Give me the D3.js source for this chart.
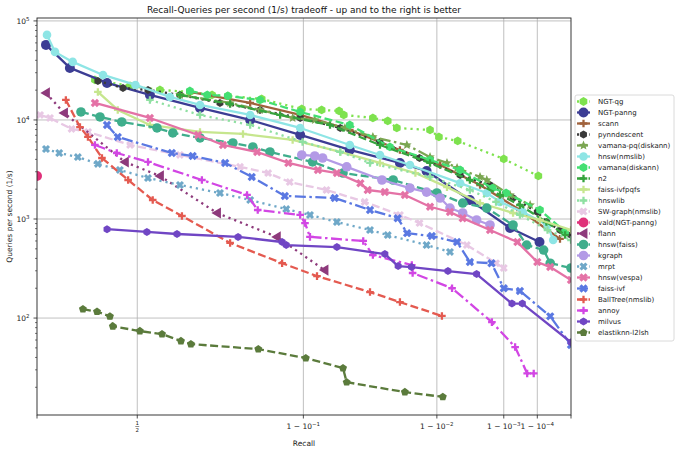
<!DOCTYPE html>
<html><head><meta charset="utf-8">
<script src="https://cdn.jsdelivr.net/npm/d3@7"></script>
<style>body{margin:0;background:#fff}</style>
</head><body><svg id="c" width="680" height="452"></svg>
<script>
// ---- data: [recall, queries per second] ----
const algorithms = ["NGT-qg","NGT-panng","scann","pynndescent","vamana-pq(diskann)","hnsw(nmslib)","vamana(diskann)","n2","faiss-ivfpqfs","hnswlib","SW-graph(nmslib)","vald(NGT-panng)","flann","hnsw(faiss)","kgraph","mrpt","hnsw(vespa)","faiss-ivf","BallTree(nmslib)","annoy","milvus","elastiknn-l2lsh"];

const ngtQg = [[0.318,25400],[0.472,22050],[0.582,20100],[0.675,19180],[0.734,17900],[0.771,17480],[0.838,16300],[0.898,12920],[0.921,12620],[0.938,12330],[0.942,11230],[0.9633,10480],[0.9717,9770],[0.9761,8300],[0.9882,7925],[0.9905,6740],[0.9943,6135],[0.999,4040],[0.99991,2720]];
const ngtPanng = [[0.055,57240],[0.191,33520],[0.374,23650],[0.547,17890],[0.703,13220],[0.817,10000],[0.896,7055],[0.947,4977],[0.9775,3680],[0.9872,3054],[0.9961,1556],[0.99928,811],[0.99992,586]];
const scann = [[0.675,19180],[0.817,14850],[0.896,11230],[0.947,7925],[0.9775,4977],[0.9908,3512],[0.99726,2205],[0.9996,1233],[0.9999976,630]];
const pynndescent = [[0.332,24780],[0.443,21050],[0.54,20090],[0.646,17890],[0.753,14850],[0.835,12620],[0.896,10470],[0.939,8300],[0.9675,6000],[0.985,4130],[0.9947,2783],[0.99814,2205],[0.99939,1630],[0.9999,1177],[0.999965,933],[0.9999976,774],[1.0,689]];
const vamanaPq = [[0.646,17890],[0.776,14850],[0.835,12620],[0.886,10470],[0.9135,10000],[0.943,8300],[0.9633,6740],[0.9804,5590],[0.9882,4220],[0.9923,3680],[0.9942,3280],[0.99726,2660],[0.99788,2477],[0.99928,1748],[0.99981,1385]];
const hnswNmslib = [[0.061,72230],[0.108,48640],[0.206,38550],[0.356,28480],[0.493,22570],[0.615,17080],[0.703,14170],[0.817,11230],[0.896,8300],[0.947,5590],[0.9675,4431],[0.9816,3512],[0.9947,2300],[0.99788,1830],[0.9988,1490],[0.99967,1177],[0.99997,870],[0.999988,614]];
const vamana = [[0.675,19630],[0.722,17890],[0.771,17480],[0.835,15920],[0.896,12050],[0.947,8900],[0.9728,5340],[0.9882,3945],[0.9947,3126],[0.99832,2050],[0.99911,1830],[0.999924,1233],[0.9999997,743]];
const n2 = [[0.646,17890],[0.776,14500],[0.868,11230],[0.9295,8900],[0.9675,5590],[0.9882,3680],[0.9961,2477],[0.9988,1748],[0.9996,1385],[0.999965,933],[0.9999997,689]];
const faissIvfpqfs = [[0.332,19180],[0.421,12620],[0.547,8900],[0.703,7570],[0.803,7220],[0.886,6280],[0.939,4750],[0.9675,3680],[0.9836,2910],[0.9923,2100],[0.99726,1450],[0.99939,1150],[0.999924,977],[1.0,774]];
const hnswlib = [[0.547,15920],[0.703,11230],[0.817,8900],[0.899,6000],[0.939,4750],[0.9615,3680],[0.9882,2660],[0.9961,1963],[0.99856,1490],[0.9996,1098],[0.99997,774],[1.0,614]];
const swGraph = [[0.019,11230],[0.079,10470],[0.2,8110],[0.285,7570],[0.472,5590],[0.646,4431],[0.797,3365],[0.849,2910],[0.882,2360],[0.926,1963],[0.958,1490],[0.9775,1098],[0.985,910],[0.9957,546],[0.99856,358],[0.999,320]];
const vald = [[0.0,2720]];
const flann = [[0.055,18750],[0.159,11760],[0.451,3765],[0.582,2720],[0.746,1150],[0.863,660],[0.924,305]];
const hnswFaiss = [[0.249,12050],[0.342,10720],[0.438,9550],[0.572,8300],[0.624,7390],[0.703,6580],[0.782,5860],[0.822,5340],[0.852,4750],[0.911,3765],[0.9414,2910],[0.9744,2477],[0.99,1830],[0.9951,1450],[0.99788,1290],[0.99939,870],[0.99975,546],[0.99995,486],[0.99998,358],[1.0,320]];
const kgraph = [[0.898,4431],[0.9135,4330],[0.922,4130],[0.9445,3365],[0.9686,2477],[0.9816,2050],[0.9872,1870],[0.9908,1630],[0.9929,1290],[0.9951,1150],[0.9969,977],[0.99814,870]];
const mrpt = [[0.055,5090],[0.132,4640],[0.233,4220],[0.332,3600],[0.43,3126],[0.54,2590],[0.646,2205],[0.753,1830],[0.817,1556],[0.877,1260],[0.908,1098],[0.936,933],[0.9615,774],[0.9717,689],[0.9872,546],[0.9929,465]];
const hnswVespa = [[0.318,14850],[0.547,10470],[0.698,7055],[0.76,5590],[0.83,4750],[0.88,3680],[0.917,3126],[0.936,2910],[0.955,2300],[0.96,1963],[0.9702,1870],[0.9796,1748],[0.9882,1330],[0.9929,1177],[0.9951,1020],[0.99814,774],[0.99953,585],[0.9999,368],[0.99998,327],[1.0,242]];
const faissIvf = [[0.374,8900],[0.421,6740],[0.621,4640],[0.683,4330],[0.765,3680],[0.82,2660],[0.875,1710],[0.934,1630],[0.9615,1233],[0.9765,1020],[0.9805,720],[0.9887,672],[0.9942,585],[0.9961,368],[0.99825,358],[0.999,200],[0.9996,188],[0.99998,104],[1.0,53.4]];
const ballTree = [[0.169,15920],[0.244,8480],[0.284,6740],[0.351,4130],[0.464,2477],[0.557,1556],[0.652,1072],[0.776,573],[0.871,358],[0.916,265],[0.9615,183],[0.9775,145],[0.9912,105]];
const annoy = [[0.318,5590],[0.417,4640],[0.54,3765],[0.708,2477],[0.811,1748],[0.831,1233],[0.896,1098],[0.902,910],[0.908,660],[0.957,600],[0.9633,433],[0.9823,343],[0.9826,285],[0.9933,200],[0.99828,91],[0.99946,51],[0.99976,27.6],[0.99986,27.6]];
const milvus = [[0.374,790],[0.536,740],[0.637,706],[0.793,660],[0.871,586],[0.877,546],[0.936,521],[0.9702,443],[0.9767,335],[0.9822,327],[0.9925,298],[0.9969,278],[0.99935,140],[0.99966,140],[1.0,57]];
const elastiknn = [[0.259,123],[0.328,116],[0.387,104],[0.4,82.6],[0.51,73.9],[0.589,68.9],[0.649,58.6],[0.678,54.6],[0.832,48.6],[0.903,39.4],[0.9414,31.2],[0.9445,22.5],[0.9796,17.9],[0.9914,16.0]];

const seriesData = [ngtQg,ngtPanng,scann,pynndescent,vamanaPq,hnswNmslib,vamana,n2,faissIvfpqfs,hnswlib,swGraph,vald,flann,hnswFaiss,kgraph,mrpt,hnswVespa,faissIvf,ballTree,annoy,milvus,elastiknn];

const xTickValues = [0, 0.5, 0.9, 0.99, 0.999, 0.9999, 1];
const xTickExponents = [null, "half", "-1", "-2", "-3", "-4", null];
const yTickExponents = [2, 3, 4, 5];

// ---- styles ----
const colors = ["#7ee24e","#3c3d94","#a0623c","#3a3a3a","#7ba652","#8ee5e5","#43df72","#35a33d","#c6e68e","#8fe0a2","#e8c8e4","#e0307a","#8e3a7c","#3fae8c","#b39ae6","#6fa8c8","#e472a6","#5a78e2","#e45a50","#d246e4","#7046c4","#5b7b3c"];
const dashes = [":","-","-",":","-.","-","--","--","-",":","--",":",":","--","-",":","-","-.","--","-.","-","--"];
const markers = ["hex","o","+","hex","*","o","hex","+","+","+","x","o","<","o","o","x","x","x","+","+","hex","pent"];
const msizes = [4.4,5,3.8,4,5,4.3,4.4,3.8,3.8,3.8,4.2,5,5.6,4.8,4.8,4.2,4.4,4.4,3.8,3.8,4,4.2];

const dashMap = {"-":null, "--":"8,3.5", "-.":"11,3.5,2.5,3.5", ":":"2.2,4"};

function markerPath(type, r){
  const p = d3.path();
  if(type==="o"){ p.arc(0,0,r,0,2*Math.PI); return p.toString(); }
  if(type==="hex" || type==="pent"){
    const n = type==="hex"?6:5;
    for(let i=0;i<n;i++){const a = -Math.PI/2 + i*2*Math.PI/n; const x=r*Math.cos(a), y=r*Math.sin(a); i?p.lineTo(x,y):p.moveTo(x,y);} p.closePath(); return p.toString();
  }
  if(type==="<"){ p.moveTo(-r,0); p.lineTo(r*0.7,-r); p.lineTo(r*0.7,r); p.closePath(); return p.toString(); }
  if(type==="*"){
    for(let i=0;i<10;i++){const rr = i%2?r*0.45:r; const a=-Math.PI/2+i*Math.PI/5; const x=rr*Math.cos(a), y=rr*Math.sin(a); i?p.lineTo(x,y):p.moveTo(x,y);} p.closePath(); return p.toString();
  }
  const w = type==="x" ? r*0.36 : r*0.3;
  const pts = [[-w,-r],[w,-r],[w,-w],[r,-w],[r,w],[w,w],[w,r],[-w,r],[-w,w],[-r,w],[-r,-w],[-w,-w]];
  const rot = type==="x"?Math.PI/4:0;
  pts.forEach((q,i)=>{const x=q[0]*Math.cos(rot)-q[1]*Math.sin(rot), y=q[0]*Math.sin(rot)+q[1]*Math.cos(rot); i?p.lineTo(x,y):p.moveTo(x,y);});
  p.closePath(); return p.toString();
}

// ---- layout ----
const svg = d3.select("#c");
const L=37, R=571, T=18, B=415;
const xPow = d3.scalePow().exponent(0.3).domain([1,0]).range([L,R]);
const x = r => xPow(1 - r);
const y = d3.scaleLog().domain([10.5,107000]).range([B,T]);
const font = "DejaVu Sans, sans-serif";

// grid
const g = svg.append("g");
xTickValues.slice(1,6).forEach(v=>{
  g.append("line").attr("x1",x(v)).attr("x2",x(v)).attr("y1",T).attr("y2",B).attr("stroke","#b0b0b0").attr("stroke-width",0.8);
});
yTickExponents.forEach(e=>{
  const v=Math.pow(10,e);
  g.append("line").attr("x1",L).attr("x2",R).attr("y1",y(v)).attr("y2",y(v)).attr("stroke","#b0b0b0").attr("stroke-width",0.8);
});

// clip
svg.append("clipPath").attr("id","clip").append("rect").attr("x",L).attr("y",T).attr("width",R-L).attr("height",B-T);
const plot = svg.append("g").attr("clip-path","url(#clip)");
const line = d3.line().x(d=>x(d[0])).y(d=>y(d[1]));

seriesData.forEach((data,i)=>{
  const sg = plot.append("g");
  if(data.length>1){
    sg.append("path").attr("d",line(data)).attr("fill","none").attr("stroke",colors[i]).attr("stroke-width",2.3)
      .attr("stroke-dasharray",dashMap[dashes[i]]).attr("stroke-linejoin","round");
  }
  sg.selectAll("path.m").data(data).enter().append("path").attr("class","m")
    .attr("d",markerPath(markers[i],msizes[i]))
    .attr("transform",d=>`translate(${x(d[0])},${y(d[1])})`)
    .attr("fill",colors[i]);
});

// frame
svg.append("rect").attr("x",L).attr("y",T).attr("width",R-L).attr("height",B-T).attr("fill","none").attr("stroke","#222").attr("stroke-width",0.9);

// x ticks
xTickValues.forEach((v,i)=>{
  const px=x(v);
  svg.append("line").attr("x1",px).attr("x2",px).attr("y1",B).attr("y2",B+3.5).attr("stroke","#222").attr("stroke-width",0.8);
  const ex = xTickExponents[i];
  if(ex==="half"){
    svg.append("text").attr("x",px).attr("y",425).attr("text-anchor","middle").attr("font-family",font).attr("font-size",5.5).attr("fill","#222").text("1");
    svg.append("line").attr("x1",px-2).attr("x2",px+2).attr("y1",426.5).attr("y2",426.5).attr("stroke","#222").attr("stroke-width",0.5);
    svg.append("text").attr("x",px).attr("y",432).attr("text-anchor","middle").attr("font-family",font).attr("font-size",5.5).attr("fill","#222").text("2");
  } else if(ex){
    const t = svg.append("text").attr("x",px).attr("y",429).attr("text-anchor","middle").attr("font-family",font).attr("font-size",7.5).attr("fill","#222");
    t.append("tspan").text("1 \u2212 10");
    t.append("tspan").attr("dy",-3).attr("font-size",5.5).text("\u2212"+ex.slice(1));
  }
});
svg.append("text").attr("x",(L+R)/2).attr("y",446).attr("text-anchor","middle").attr("font-family",font).attr("font-size",7.5).attr("fill","#222").text("Recall");

// y ticks major/minor
for(let e=1;e<=5;e++){
  for(let m=1;m<10;m++){
    const v=m*Math.pow(10,e);
    if(v<10.5||v>107000) continue;
    const py=y(v);
    svg.append("line").attr("x1",L-(m===1?3.5:2)).attr("x2",L).attr("y1",py).attr("y2",py).attr("stroke","#222").attr("stroke-width",m===1?0.8:0.6);
  }
}
yTickExponents.forEach(e=>{
  const t = svg.append("text").attr("x",L-14).attr("y",y(Math.pow(10,e))+3).attr("text-anchor","middle").attr("font-family",font).attr("font-size",7.5).attr("fill","#222");
  t.append("tspan").text("10");
  t.append("tspan").attr("dy",-3).attr("font-size",5.5).text(e);
});
svg.append("text").attr("transform",`translate(12,${(T+B)/2}) rotate(-90)`).attr("text-anchor","middle").attr("font-family",font).attr("font-size",7.5).attr("fill","#222").text("Queries per second (1/s)");

// title
svg.append("text").attr("x",(L+R)/2).attr("y",13).attr("text-anchor","middle").attr("font-family",font).attr("font-size",9).attr("fill","#111").text("Recall-Queries per second (1/s) tradeoff - up and to the right is better");

// legend
const lg = svg.append("g");
lg.append("rect").attr("x",575).attr("y",95).attr("width",99).attr("height",246).attr("rx",2).attr("fill","#fff").attr("fill-opacity",0.8).attr("stroke","#d0d0d0").attr("stroke-width",0.8);
algorithms.forEach((name,i)=>{
  const ly = 101.5 + i*11;
  lg.append("line").attr("x1",577).attr("x2",590).attr("y1",ly).attr("y2",ly).attr("stroke",colors[i]).attr("stroke-width",2.3).attr("stroke-dasharray",dashMap[dashes[i]]);
  lg.append("path").attr("d",markerPath(markers[i],msizes[i])).attr("transform",`translate(583.5,${ly})`).attr("fill",colors[i]);
  lg.append("text").attr("x",598).attr("y",ly+2.5).attr("font-family",font).attr("font-size",7).attr("fill","#222").text(name);
});
</script></body></html>
